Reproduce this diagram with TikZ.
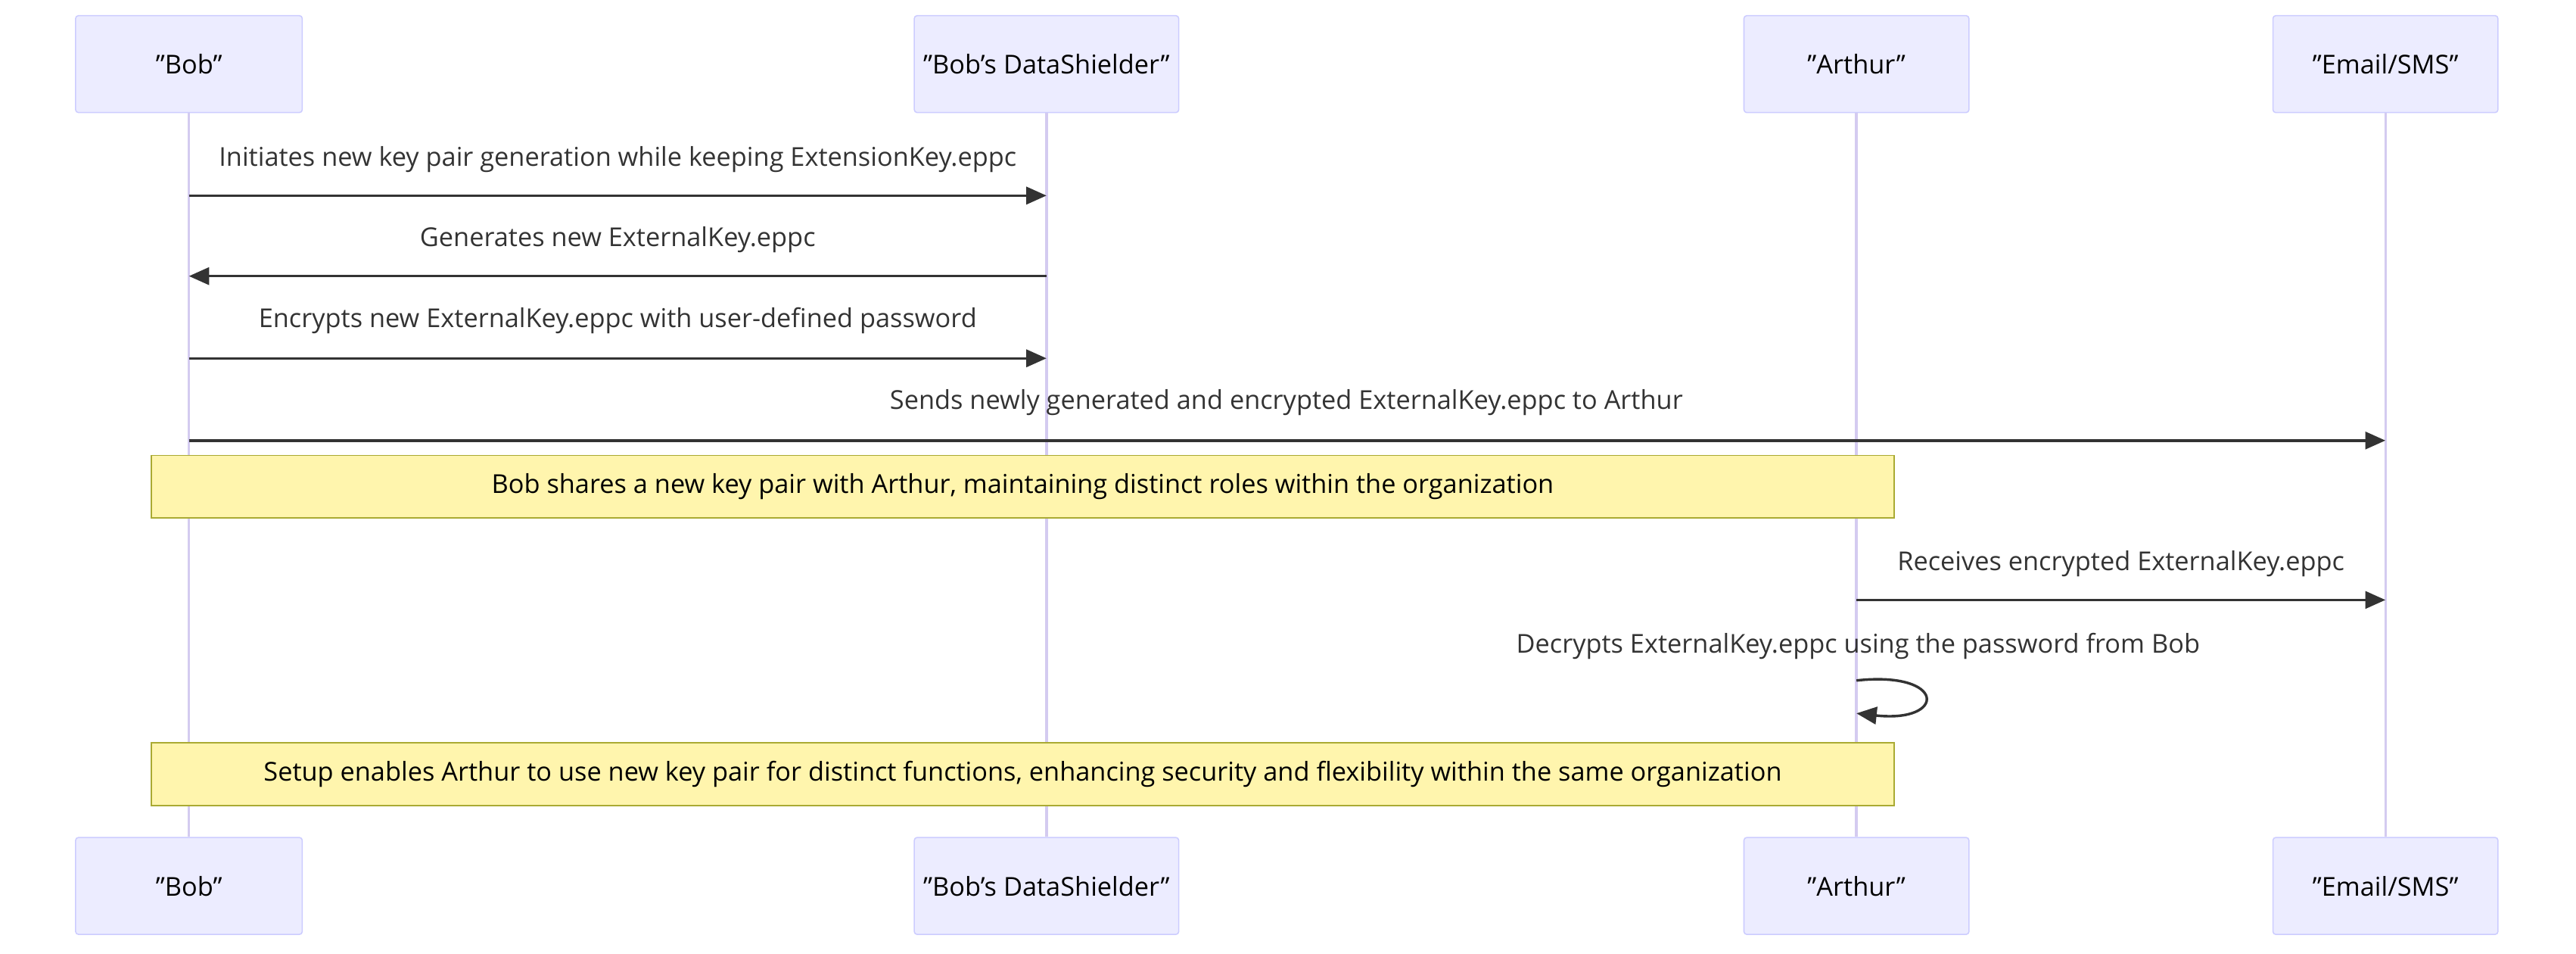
\documentclass[tikz,border=0pt]{standalone}
\usepackage{fontspec}
\setmainfont{Open Sans}
\usetikzlibrary{arrows.meta}
\definecolor{actfill}{HTML}{ECECFF}
\definecolor{actline}{HTML}{CCCCFF}
\definecolor{lifeline}{HTML}{D4CBF0}
\definecolor{notefill}{HTML}{FFF5AD}
\definecolor{noteline}{HTML}{AAAA33}
\definecolor{msgline}{HTML}{333333}
\tikzset{
  actor/.style={draw=actline, fill=actfill, rounded corners=1pt, minimum height=1.18cm, inner sep=0pt, font=\fontsize{9}{11}\selectfont},
  note/.style={draw=noteline, fill=notefill, minimum height=0.76cm, inner sep=0pt, font=\fontsize{9}{11}\selectfont},
  msgtext/.style={font=\fontsize{9}{11}\selectfont, text=msgline},
  msg/.style={draw=msgline, line width=0.9pt, -{Triangle[length=7pt,width=6pt]}},
}
\begin{document}
\begin{tikzpicture}[x=0.02cm, y=-0.02cm]
  \useasboundingbox (0,0) rectangle (1568,580);
  % actors, top and bottom
  \node[actor, minimum width=2.76cm] (bobT) at (115,39) {"Bob"};
  \node[actor, minimum width=3.22cm] (dsT) at (637,39) {"Bob's DataShielder"};
  \node[actor, minimum width=2.74cm] (artT) at (1130,39) {"Arthur"};
  \node[actor, minimum width=2.74cm] (mailT) at (1452,39) {"Email/SMS"};
  \node[actor, minimum width=2.76cm] (bobB) at (115,539) {"Bob"};
  \node[actor, minimum width=3.22cm] (dsB) at (637,539) {"Bob's DataShielder"};
  \node[actor, minimum width=2.74cm] (artB) at (1130,539) {"Arthur"};
  \node[actor, minimum width=2.74cm] (mailB) at (1452,539) {"Email/SMS"};

  % lifelines
  \foreach \a in {bob, ds, art, mail}
    \draw[lifeline, line width=0.9pt] (\a T.south) -- (\a B.north);

  % messages
  \coordinate (y1) at (0,119);
  \coordinate (y2) at (0,168);
  \coordinate (y3) at (0,218);
  \coordinate (y4) at (0,268);
  \coordinate (y5) at (0,365);
  \node[msgtext] (t1) at (376,97) {Initiates new key pair generation while keeping ExtensionKey.eppc};
  \draw[msg] (bobT |- y1) -- (dsT |- y1);
  \node[msgtext] (t2) at (376,146) {Generates new ExternalKey.eppc};
  \draw[msg] (dsT |- y2) -- (bobT |- y2);
  \node[msgtext] (t3) at (376,195) {Encrypts new ExternalKey.eppc with user-defined password};
  \draw[msg] (bobT |- y3) -- (dsT |- y3);
  \node[msgtext] (t4) at (783,245) {Sends newly generated and encrypted ExternalKey.eppc to Arthur};
  \draw[msg] (bobT |- y4) -- (mailT |- y4);

  \node[note, minimum width=21.22cm] (n1) at (622.5,296) {Bob shares a new key pair with Arthur, maintaining distinct roles within the organization};

  \node[msgtext] (t5) at (1291,343) {Receives encrypted ExternalKey.eppc};
  \draw[msg] (artT |- y5) -- (mailT |- y5);
  \node[msgtext] (t6) at (1131,393) {Decrypts ExternalKey.eppc using the password from Bob};
  \draw[msg] (1130,414) .. controls (1185,408) and (1185,440) .. (1130,434);

  \node[note, minimum width=21.22cm] (n2) at (622.5,471) {Setup enables Arthur to use new key pair for distinct functions, enhancing security and flexibility within the same organization};
\end{tikzpicture}
\end{document}
